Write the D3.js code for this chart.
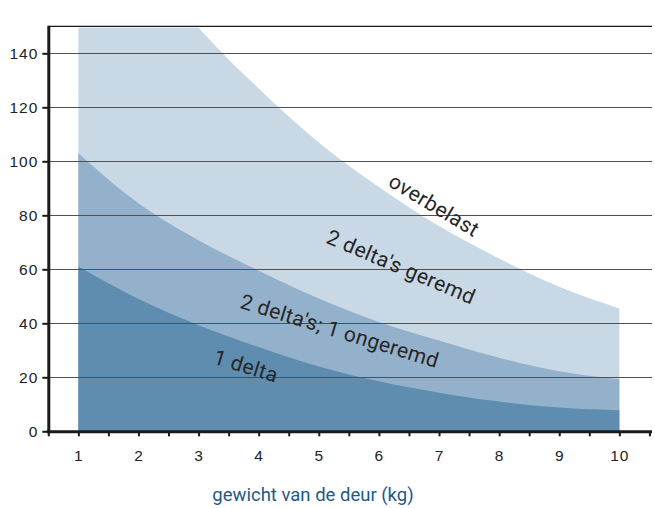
<!DOCTYPE html>
<html>
<head>
<meta charset="utf-8">
<script src="https://cdn.jsdelivr.net/npm/d3@7"></script>
<style>
  html, body { margin: 0; padding: 0; background: #fff; }
  svg { display: block; }
</style>
</head>
<body>
<svg id="chart" width="655" height="508"></svg>
<script>
// ---- data ----
const weights = [1, 2, 3, 4, 5, 6, 7, 8, 9, 10];
// upper limit of "2 delta's geremd" (above = overbelast)
const limitTwoBraked = [210, 177, 149.5, 127, 107, 90.5, 76, 64, 53.5, 45.5];
// upper limit of "2 delta's; 1 ongeremd"
const limitTwoOneUnbraked = [103, 84.5, 70.8, 59.5, 49.2, 40.5, 33.6, 27.2, 22.2, 19.3];
// upper limit of "1 delta"
const limitOne = [61, 49, 39.3, 31.2, 24, 18.5, 14.3, 11, 8.8, 7.8];

const yTicks = [0, 20, 40, 60, 80, 100, 120, 140];
const xTickLabels = ["1", "2", "3", "4", "5", "6", "7", "8", "9", "10"];
const xTitle = "gewicht van de deur (kg)";

const labelTexts = ["overbelast", "2 delta's geremd", "2 delta's; 1 ongeremd", "1 delta"];
const labelX = [6.92, 6.37, 5.35, 3.79];
const labelY = [83.8, 60.9, 37.2, 24.2];
const labelAngle = [31, 23, 17, 17];

// ---- scales ----
const svg = d3.select("#chart");
const x = d3.scaleLinear().domain([0.5, 10.5]).range([48.3, 649.4]);
const y = d3.scaleLinear().domain([0, 150]).range([431.3, 26.3]);
const rightEdge = 652;

svg.append("defs").append("clipPath").attr("id", "clip")
  .append("rect")
  .attr("x", x(0.5)).attr("y", y(150) + 1.5)
  .attr("width", rightEdge - x(0.5)).attr("height", y(0) - y(150));

const series = [
  { vals: limitTwoBraked, color: "#c8d8e5" },
  { vals: limitTwoOneUnbraked, color: "#94b1cb" },
  { vals: limitOne, color: "#5e8db0" }
];

const area = d3.area()
  .x(d => x(d[0]))
  .y0(y(0))
  .y1(d => y(d[1]))
  .curve(d3.curveMonotoneX);

const gAreas = svg.append("g").attr("clip-path", "url(#clip)");
series.forEach(s => {
  gAreas.append("path")
    .datum(weights.map((w, i) => [w, s.vals[i]]))
    .attr("d", area)
    .attr("fill", s.color);
});

// ---- gridlines ----
svg.append("g").selectAll("line")
  .data(yTicks.filter(t => t > 0))
  .join("line")
  .attr("x1", x(0.5)).attr("x2", rightEdge)
  .attr("y1", d => Math.round(y(d)) + 0.5).attr("y2", d => Math.round(y(d)) + 0.5)
  .attr("stroke", "#505050").attr("stroke-width", 1);

// top border line
svg.append("line")
  .attr("x1", x(0.5)).attr("x2", rightEdge)
  .attr("y1", y(150)).attr("y2", y(150))
  .attr("stroke", "#1a1a1a").attr("stroke-width", 1.2);

// ---- axes ----
const xAxis = d3.axisBottom(x)
  .tickValues(d3.range(0.5, 10.51, 0.5))
  .tickSize(5)
  .tickSizeOuter(0)
  .tickPadding(14)
  .tickFormat(d => Number.isInteger(d) ? xTickLabels[d - 1] : "");

const gx = svg.append("g").attr("transform", `translate(0,${y(0)})`).call(xAxis);
gx.select(".domain").remove();
gx.selectAll(".tick line").attr("stroke", "#1a1a1a").attr("stroke-width", 2);
gx.selectAll(".tick text")
  .attr("font-family", "'Liberation Sans', Arial, sans-serif")
  .attr("font-size", 15.5).attr("fill", "#222")
  .attr("letter-spacing", 1);
gx.append("line")
  .attr("x1", x(0.5) - 1.5).attr("x2", rightEdge)
  .attr("y1", 0.5).attr("y2", 0.5)
  .attr("stroke", "#1a1a1a").attr("stroke-width", 3);

const yAxis = d3.axisLeft(y)
  .tickValues(yTicks)
  .tickSize(6)
  .tickSizeOuter(0)
  .tickPadding(4);
const gy = svg.append("g").attr("transform", `translate(${x(0.5)},0)`).call(yAxis);
gy.select(".domain").remove();
gy.selectAll(".tick line").attr("stroke", "#1a1a1a").attr("stroke-width", 2);
gy.selectAll(".tick text")
  .attr("font-family", "'Liberation Sans', Arial, sans-serif")
  .attr("font-size", 15.5).attr("fill", "#222")
  .attr("letter-spacing", 1);
gy.append("line")
  .attr("x1", 0.5).attr("x2", 0.5)
  .attr("y1", y(150) - 0.5).attr("y2", y(0) + 2)
  .attr("stroke", "#1a1a1a").attr("stroke-width", 3);

// ---- axis title ----
svg.append("text")
  .attr("x", 313).attr("y", 501)
  .attr("text-anchor", "middle")
  .attr("font-family", "Roboto, sans-serif")
  .attr("font-size", 18.5)
  .attr("fill", "#1d5a84")
  .text(xTitle);

// ---- region labels ----
svg.append("g").selectAll("text")
  .data(labelTexts)
  .join("text")
  .attr("transform", (d, i) => `translate(${x(labelX[i])},${y(labelY[i])}) rotate(${labelAngle[i]})`)
  .attr("text-anchor", "middle")
  .attr("dy", "0.35em")
  .attr("font-family", "Roboto, sans-serif")
  .attr("font-size", 21)
  .attr("letter-spacing", 0.4)
  .attr("fill", "#262626")
  .text(d => d);
</script>
</body>
</html>
